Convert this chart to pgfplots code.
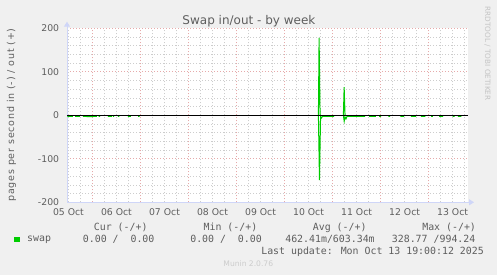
\documentclass[border=0pt]{standalone}
\usepackage{pgfplots}
\pgfplotsset{compat=1.18}
\usepackage{fontspec}
\setmainfont{DejaVu Sans}
\newfontfamily\monofont{DejaVu Sans Mono}
\newfontfamily\ylabfont[LetterSpace=8.5]{DejaVu Sans}
\usetikzlibrary{arrows.meta}
\definecolor{bgcol}{HTML}{F0F0F0}
\definecolor{axiscol}{HTML}{CFD6F8}
\definecolor{gridgray}{HTML}{CDCDCD}
\definecolor{gridred}{HTML}{E6AAAA}
\definecolor{txt}{HTML}{5E5E5E}
\definecolor{swapgreen}{HTML}{00CC00}
\definecolor{wm}{HTML}{C4C4C4}
\definecolor{muninc}{HTML}{CCCCCC}
\begin{document}
\begin{tikzpicture}
\path[use as bounding box] (0pt,0pt) rectangle (497pt,275pt);
\fill[bgcol] (0pt,0pt) rectangle (497pt,275pt);
\begin{axis}[
  at={(67pt,72.7pt)}, anchor=south west,
  scale only axis, width=401pt, height=174pt,
  xmin=-0.03, xmax=8.32, ymin=-200, ymax=200,
  axis background/.style={fill=white},
  axis x line=bottom, axis y line=left,
  axis line style={draw=axiscol, line width=1pt},
  x axis line style={-{Triangle[length=5pt,width=6pt]}, shorten >=-6pt},
  y axis line style={-{Triangle[length=5pt,width=6pt]}, shorten >=-6.6pt},
  xtick={0,1,2,3,4,5,6,7,8},
  xticklabels={05 Oct,06 Oct,07 Oct,08 Oct,09 Oct,10 Oct,11 Oct,12 Oct,13 Oct},
  ytick={-200,-100,0,100,200},
  yticklabels={-200,-100,0,100,200},
  minor xtick={0,0.25,0.75,1,1.25,1.75,2,2.25,2.75,3,3.25,3.75,4,4.25,4.75,5,5.25,5.75,6,6.25,6.75,7,7.25,7.75,8,8.25},
  minor y tick num=4,
  major tick length=0pt, minor tick length=0pt,
  xmajorgrids=false, xminorgrids=true,
  ymajorgrids=true, yminorgrids=true,
  minor grid style={draw=gridgray, line width=0.7pt, dash pattern=on 1pt off 2pt},
  major grid style={draw=gridred, line width=0.7pt, dash pattern=on 1pt off 2pt},
  extra x ticks={0.5,1.5,2.5,3.5,4.5,5.5,6.5,7.5},
  extra x tick labels={},
  extra x tick style={grid=major, major grid style={draw=gridred, line width=0.7pt, dash pattern=on 1pt off 2pt}},
  ticklabel style={font=\fontsize{9.3}{10}\selectfont, text=txt, inner sep=0pt},
  xticklabel style={anchor=north, yshift=-6pt},
  yticklabel style={anchor=east, xshift=-7.7pt},
  unbounded coords=jump,
  legend style={at={(axis description cs:-0.1322,-0.2138)}, anchor=west, draw=none, fill=none,
    inner sep=0pt, outer sep=0pt, font=\monofont\fontsize{9.9}{11}\selectfont, text=txt,
    nodes={inner sep=0pt}, /tikz/column sep=0pt},
  legend cell align=left,
  legend image code/.code={\fill[swapgreen] (0pt,-2.2pt) rectangle (5.3pt,2.2pt); \path (12.2pt,0pt);},
]
% swap in (plotted negative)
\addplot[swapgreen, line width=1pt, forget plot] coordinates {
(-0.02,-2.5)(0.09,-2.5) (0.09,nan)
(0.14,-2.5)(0.24,-2.5) (0.24,nan)
(0.30,-2.5)(0.45,-3)(0.59,-2.5) (0.59,nan)
(0.63,-2.5)(0.66,-2.5) (0.66,nan)
(0.82,-2.5)(0.91,-2.5) (0.91,nan)
(0.93,-2.5)(0.95,-2.5) (0.95,nan)
(1.03,-2.5)(1.06,-2.5) (1.06,nan)
(1.24,-2.5)(1.30,-2.5) (1.30,nan)
(1.45,-2.5)(1.48,-2.5) (1.48,nan)
(5.205,0)(5.227,-149)(5.25,-3)(5.27,-6)(5.29,-2.5)(5.53,-2.5) (5.53,nan)
(5.725,0)(5.742,-14)(5.76,-4)(5.78,-8)(5.80,-2.5)(6.18,-2.5) (6.18,nan)
(6.26,-2.5)(6.40,-2.5) (6.40,nan)
(6.47,-2.5)(6.51,-2.5) (6.51,nan)
(6.66,-2.5)(6.70,-2.5) (6.70,nan)
(6.91,-2.5)(6.99,-2.5) (6.99,nan)
(7.13,-2.5)(7.24,-2.5) (7.24,nan)
(7.34,-2.5)(7.43,-2.5) (7.43,nan)
(7.55,-2.5)(7.59,-2.5) (7.59,nan)
(7.72,-2.5)(7.80,-2.5) (7.80,nan)
(8.00,-2.5)(8.04,-2.5) (8.04,nan)
(8.11,-2.5)(8.18,-2.5)
};
% swap out (positive)
\addplot[swapgreen, line width=1pt] coordinates {
(5.205,0)(5.219,178)(5.24,0) (5.24,nan)
(5.725,0)(5.741,65)(5.76,0)
};
\addlegendentry{swap}
% zero rule
\addplot[black, line width=0.9pt, forget plot] coordinates {(-0.03,0)(8.32,0)};
\end{axis}
% title
\node[anchor=base, inner sep=0pt, text=txt, font=\fontsize{12}{14}\selectfont] at (248.9pt,250.7pt) {Swap in/out - by week};
% y label
\node[rotate=90, inner sep=0pt, text=txt, font=\ylabfont\fontsize{9.5}{10}\selectfont] at (11.5pt,160pt) {pages per second in (-) / out (+)};
% watermark
\node[rotate=-90, inner sep=0pt, text=wm, font=\fontsize{7.3}{8}\selectfont] at (487.5pt,221.5pt) {RRDTOOL / TOBI OETIKER};
% legend table
\begin{scope}[every node/.style={anchor=base west, inner sep=0pt, text=txt, font=\monofont\fontsize{9.9}{11}\selectfont}]
\node at (93.7pt,44.2pt) {Cur (-/+)};
\node at (203.4pt,44.2pt) {Min (-/+)};
\node at (312.7pt,44.2pt) {Avg (-/+)};
\node at (422.1pt,44.2pt) {Max (-/+)};
\node at (82.7pt,32.5pt) {0.00 /\ \ 0.00};
\node at (190.1pt,32.5pt) {0.00 /\ \ 0.00};
\node at (285.1pt,32.5pt) {462.41m/603.34m};
\node at (391.7pt,32.5pt) {328.77 /994.24};
\node at (261.1pt,20pt) {Last update: Mon Oct 13 19:00:12 2025};
\end{scope}
\node[anchor=base, inner sep=0pt, text=muninc, font=\fontsize{7.6}{9}\selectfont] at (248.3pt,8.3pt) {Munin 2.0.76};
\end{tikzpicture}
\end{document}
